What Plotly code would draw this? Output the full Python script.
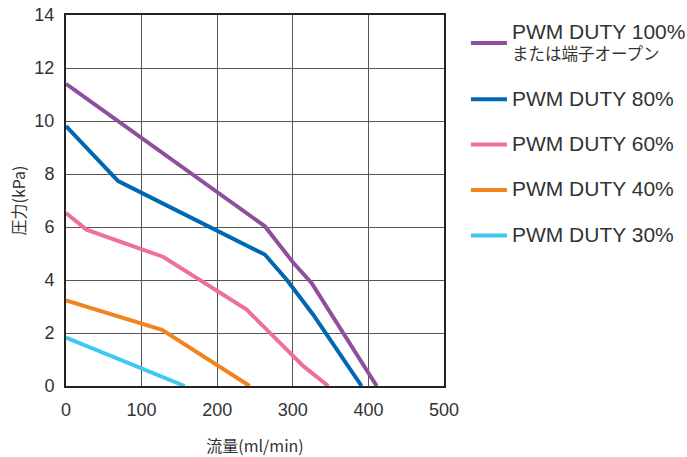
import plotly.graph_objects as go

def big(t):
    return "<span style='font-size:21px'>" + t + "</span>"

names = [big("PWM DUTY 100%") + "<br>または端子オープン",
         big("PWM DUTY 80%"), big("PWM DUTY 60%"), big("PWM DUTY 40%"), big("PWM DUTY 30%")]
colors = ["#8E4F9E", "#0067B2", "#EE7096", "#F3831F", "#3EC8F2"]

flow_100 = [0, 263, 301, 325, 411]
pres_100 = [11.4, 6.03, 4.64, 3.88, 0]
flow_80 = [0, 69, 263, 292, 327, 358, 391]
pres_80 = [9.81, 7.73, 4.96, 4.01, 2.69, 1.36, 0]
flow_60 = [0, 27, 129, 239, 314, 347]
pres_60 = [6.53, 5.9, 4.87, 2.88, 0.75, 0]
flow_40 = [0, 127, 243]
pres_40 = [3.23, 2.12, 0]
flow_30 = [0, 157]
pres_30 = [1.83, 0]

flows = [flow_100, flow_80, flow_60, flow_40, flow_30]
press = [pres_100, pres_80, pres_60, pres_40, pres_30]

x_ticks = [0, 100, 200, 300, 400, 500]
y_ticks = [0, 2, 4, 6, 8, 10, 12, 14]

fig = go.Figure()
for i in range(5):
    fig.add_trace(go.Scatter(x=flows[i], y=press[i], mode="lines", name=names[i],
                             legendgroup=str(i),
                             line=dict(color=colors[i], width=4)))

axis_common = dict(showline=True, linecolor="#222", linewidth=2, mirror=True,
                   showgrid=True, gridcolor="#555", gridwidth=1, zeroline=False,
                   automargin=False, ticklabeloverflow="allow",
                   ticks="", tickfont=dict(family="Liberation Sans, Arial", size=18, color="#333"),
                   ticklabelstandoff=6)

fig.update_layout(
    width=687, height=457,
    margin=dict(l=66, r=243, t=15, b=71, autoexpand=False),
    plot_bgcolor="white", paper_bgcolor="white",
    font=dict(family="Liberation Sans, Noto Sans CJK JP", color="#333"),
    xaxis=dict(range=[0, 500], tickvals=x_ticks, **axis_common,
               title=dict(text="流量(ml/min)", font=dict(family="Noto Sans CJK JP", size=16, color="#333"),
                          standoff=22)),
    yaxis=dict(range=[0, 14], tickvals=y_ticks, **axis_common,
               title=dict(text="圧力(kPa)", font=dict(family="Noto Sans CJK JP", size=16, color="#333"),
                          standoff=5)),
    legend=dict(x=1.058, xanchor="left", y=1.0, yanchor="top", tracegroupgap=21,
                itemwidth=36, maxheight=440,
                font=dict(family="Liberation Sans, Noto Sans CJK JP", size=16.5, color="#333"),
                bgcolor="rgba(0,0,0,0)"),
)

fig.write_html("out.html", config={"displayModeBar": False},
               post_script="document.body.style.margin='0px';document.body.style.overflow='hidden';")
